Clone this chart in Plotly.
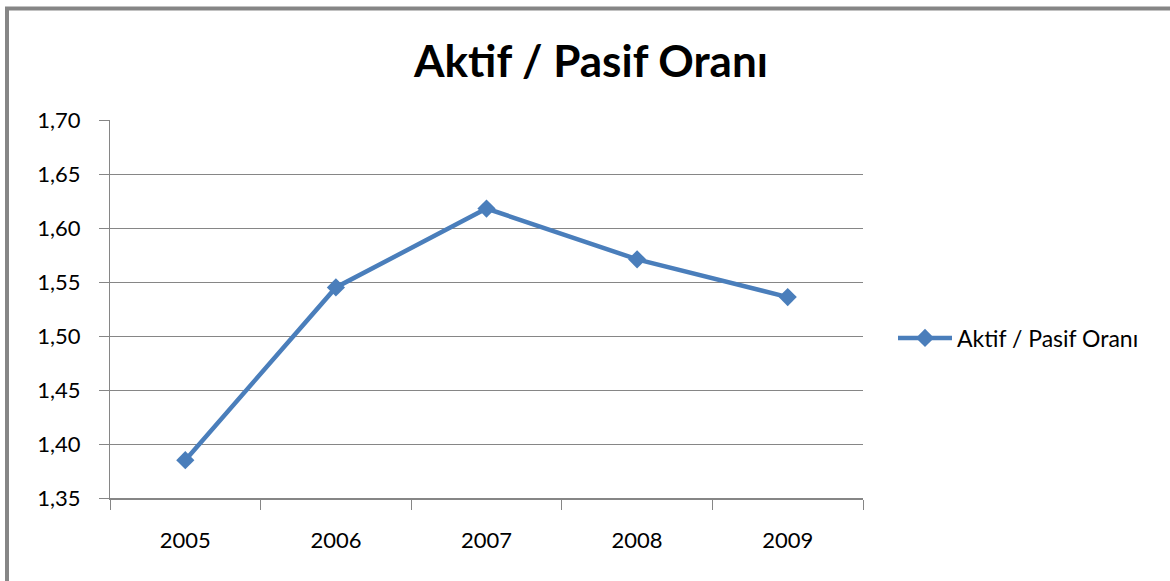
import plotly.graph_objects as go

years = ["2005", "2006", "2007", "2008", "2009"]
ratio = [1.385, 1.545, 1.618, 1.571, 1.536]
series_name = "Aktif / Pasif Oranı"
title_text = "Aktif / Pasif Oranı"
y_ticks = [1.35, 1.40, 1.45, 1.50, 1.55, 1.60, 1.65, 1.70]

W, H = 1170, 581
L, R, T, B = 110, 307, 120, 83
pw = W - L - R
ph = H - T - B

def px_x(p):
    return (p - L) / pw

def px_y(p):
    return (H - B - p) / ph

blue = "#4a7ebb"
grid = "#868686"
font = "Lato, 'Open Sans', sans-serif"

fig = go.Figure()
fig.add_trace(go.Scatter(
    x=years, y=ratio, mode="lines+markers", name=series_name,
    line=dict(color=blue, width=4.5),
    marker=dict(symbol="diamond", size=14, color=blue),
))

fig.update_layout(
    width=W, height=H,
    margin=dict(l=L, r=R, t=T, b=B),
    paper_bgcolor="white", plot_bgcolor="white",
    separators=",.",
    font=dict(family=font, size=22, color="#000000"),
    title=dict(text="<b>" + title_text + "</b>", x=px_x(591), xref="paper",
               xanchor="center", y=1 - 62 / H, yanchor="middle",
               font=dict(family=font, size=44, color="#000000")),
    showlegend=True,
    legend=dict(x=px_x(893), y=px_y(338), xanchor="left", yanchor="middle",
                font=dict(family=font, size=23, color="#000000"),
                bgcolor="rgba(0,0,0,0)", itemwidth=54),
    xaxis=dict(
        type="category", tickson="boundaries", ticks="outside", ticklen=10,
        tickcolor=grid, showline=True, linecolor=grid, linewidth=2,
        showgrid=False, ticklabelstandoff=22, tickfont=dict(size=22),
        range=[-0.5, 4.5],
    ),
    yaxis=dict(
        range=[1.35, 1.70], tickvals=y_ticks, tickformat=".2f",
        ticks="outside", ticklen=10, tickcolor=grid,
        showline=True, linecolor=grid, linewidth=1,
        showgrid=True, gridcolor=grid, gridwidth=1, zeroline=False,
        ticklabelstandoff=14, tickfont=dict(size=22),
    ),
    shapes=[
        dict(type="line", xref="paper", yref="paper",
             x0=px_x(7), x1=px_x(7), y0=px_y(7), y1=px_y(600),
             line=dict(color="#868686", width=4)),
        dict(type="line", xref="paper", yref="paper",
             x0=px_x(5), x1=px_x(1200), y0=px_y(8.5), y1=px_y(8.5),
             line=dict(color="#868686", width=4)),
    ],
)

fig.write_html(
    "out.html",
    config={"displayModeBar": False},
    post_script="document.body.style.margin='0';document.body.style.overflow='hidden';",
)
